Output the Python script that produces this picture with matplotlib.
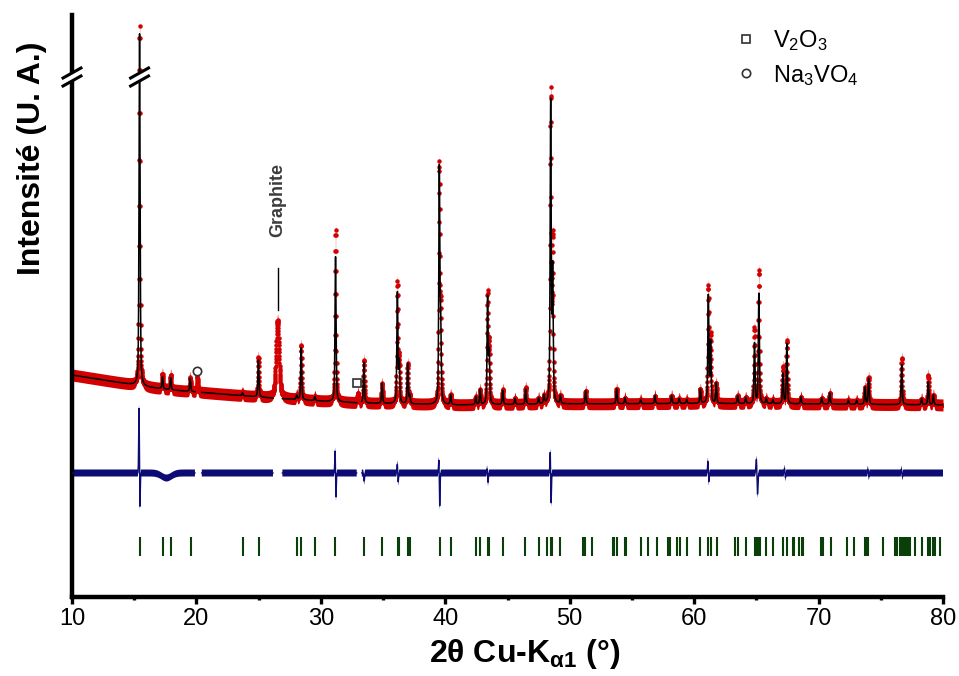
import numpy as np
import matplotlib.pyplot as plt

plt.rcParams['font.family'] = ['Liberation Sans', 'DejaVu Sans']
plt.rcParams['mathtext.fontset'] = 'custom'
plt.rcParams['mathtext.rm'] = 'Liberation Sans'
plt.rcParams['mathtext.it'] = 'Liberation Sans:italic'
plt.rcParams['mathtext.bf'] = 'Liberation Sans:bold'

# background under the pattern (2theta, a.u.)
bg_tt = [10, 12, 14, 16, 18, 20, 23, 26, 30, 33, 37, 41, 50, 60, 70, 80]
bg_int = [222, 218, 214, 210, 207, 205, 202, 199, 196, 194, 193, 192, 193, 193.5, 193, 192]

# reflections: position, calculated height, observed height
peak_pos = [15.43, 17.27, 17.93, 19.50, 20.07, 23.70, 24.98, 26.52, 28.06, 28.42,
            29.52, 31.18, 32.98, 33.46, 34.92, 36.15, 36.30, 36.98, 37.15, 39.52,
            39.63, 40.43, 42.45, 42.80, 43.40, 43.53, 44.62, 45.60, 46.46, 47.50,
            47.93, 48.47, 48.63, 49.25, 51.28, 53.77, 54.44, 55.70, 56.85, 58.19,
            58.80, 59.40, 60.50, 61.14, 61.32, 61.77, 63.50, 64.14, 64.85, 65.20,
            65.80, 66.33, 67.14, 67.45, 68.58, 70.25, 70.90, 72.39, 73.06, 73.73,
            74.02, 76.68, 78.28, 78.82, 79.23]
peak_calc = [352, 12, 12, 13, 0, 3, 37, 0, 4, 52,
             4, 145, 0, 41, 20, 110, 40, 40, 8, 233,
             70, 10, 8, 15, 106, 50, 14, 6, 15, 6,
             8, 300, 130, 8, 13, 15, 6, 4, 8, 8,
             5, 4, 14, 107, 60, 20, 8, 6, 60, 110,
             5, 4, 30, 60, 7, 6, 11, 4, 4, 17,
             26, 40, 6, 23, 10]
peak_obs = [360, 15, 15, 14, 15, 3, 40, 78, 4, 55,
            4, 172, 10, 43, 20, 120, 45, 40, 8, 235,
            80, 10, 8, 15, 110, 60, 15, 6, 17, 6,
            8, 310, 160, 8, 13, 15, 6, 4, 8, 8,
            5, 4, 14, 116, 67, 20, 8, 6, 75, 133,
            5, 4, 37, 63, 7, 6, 11, 4, 4, 17,
            27, 47, 6, 30, 10]
peak_fwhm = [0.10] * len(peak_pos)
peak_fwhm[7] = 0.28  # graphite

# regions left out of the refinement
excluded = [(19.88, 20.42), (26.15, 26.90), (32.88, 33.28)]

# difference curve features: position, upper lobe, lower lobe, width
res_pos = [15.42, 17.20, 31.18, 33.45, 36.18, 39.52, 43.40, 48.47, 61.14, 65.05, 67.30, 74.00, 76.70]
res_up = [70, 0, 25, 0, 10, 16, 5, 24, 13, 16, 5, 4, 4]
res_down = [40, 5, 27, 8, 10, 35, 10, 33, 10, 23, 5, 4, 4]
res_w = [0.03, 0.40, 0.03, 0.03, 0.03, 0.03, 0.03, 0.03, 0.03, 0.04, 0.03, 0.03, 0.03]

# Bragg positions
bragg = [15.46, 17.29, 17.93, 19.54, 23.72, 25.00, 28.06, 28.43, 29.50, 31.16,
         33.47, 34.91, 36.18, 36.28, 37.00, 37.16, 39.57, 40.43, 42.47, 42.79,
         43.46, 43.54, 44.61, 46.41, 47.56, 48.15, 48.47, 48.60, 49.22, 51.09,
         51.23, 51.77, 53.45, 53.56, 53.83, 54.44, 54.52, 55.70, 56.32, 56.99,
         57.92, 58.06, 58.60, 58.86, 59.40, 60.47, 61.14, 61.33, 61.81, 63.28,
         63.55, 64.17, 64.89, 65.02, 65.16, 65.29, 65.77, 66.31, 67.17, 67.44,
         67.92, 68.05, 68.45, 68.64, 68.72, 70.17, 70.33, 70.97, 72.26, 72.84,
         73.73, 73.87, 74.00, 75.15, 76.14, 76.28, 76.54, 76.68, 76.86, 77.02,
         77.21, 77.35, 77.75, 78.29, 78.82, 78.95, 79.22, 79.36, 79.76]

res_offset = 124
bragg_lo, bragg_hi = 41, 60


def pv(x, c, fwhm, eta=0.5):
    d = (x - c) / fwhm
    return eta / (1 + 4 * d ** 2) + (1 - eta) * np.exp(-4 * np.log(2) * d ** 2)


tt = np.arange(10, 80.0001, 0.01)
bg = np.interp(tt, bg_tt, bg_int)
calc = bg.copy()
obs = bg.copy()
for p, hc, ho, w in zip(peak_pos, peak_calc, peak_obs, peak_fwhm):
    prof = pv(tt, p, w)
    calc += hc * prof
    obs += ho * prof

diff = np.full_like(tt, res_offset, dtype=float)
for p, up, dn, w in zip(res_pos, res_up, res_down, res_w):
    diff += up * np.exp(-0.5 * ((tt - (p - w)) / w) ** 2)
    diff -= dn * np.exp(-0.5 * ((tt - (p + w)) / w) ** 2)

mask = np.zeros_like(tt, dtype=bool)
for a, b in excluded:
    mask |= (tt > a) & (tt < b)
calc_m = np.where(mask, np.nan, calc)
diff_m = np.where(mask, np.nan, diff)

red = '#d20000'
navy = '#0c0c74'
green = '#0a3f0a'

fig = plt.figure(figsize=(9.59, 6.76), dpi=100)
ax = fig.add_axes([72 / 959, 79 / 676, 871 / 959, 582 / 676])

ax.fill_between(tt, obs - 6, obs + 6, color=red, lw=0, zorder=1)
ax.plot(tt, obs, 'o', color=red, ms=3.2, mew=0, zorder=2)
ax.plot(tt, calc_m, color='black', lw=1.1, zorder=3)

ax.fill_between(tt, diff_m - 3.5, diff_m + 3.5, color=navy, lw=0, zorder=2)
ax.plot(tt, diff_m, color=navy, lw=1.0, zorder=3)

ax.vlines(bragg, bragg_lo, bragg_hi, color=green, lw=1.5)

# impurity markers
ax.plot([32.88], [214], 's', ms=6, mfc='white', mec='#303030', mew=1.2, zorder=5, label='V$_2$O$_3$')
ax.plot([20.07], [226], 'o', ms=6, mfc='white', mec='#303030', mew=1.2, zorder=5, label='Na$_3$VO$_4$')
ax.legend(loc='upper left', bbox_to_anchor=(0.760, 0.978), frameon=False, fontsize=17,
          handlelength=1.0, handletextpad=0.64, labelspacing=0.42, borderpad=0, borderaxespad=0)

ax.text(26.52, 397, 'Graphite', rotation=90, ha='center', va='center', fontsize=13,
        fontweight='bold', color='#3c3c3c')
ax.plot([26.52, 26.52], [287, 329], color='black', lw=1)

ax.set_xlim(10, 80)
ax.set_ylim(0, 582)
ax.spines['top'].set_visible(False)
ax.spines['right'].set_visible(False)
ax.spines['left'].set_linewidth(3.2)
ax.spines['bottom'].set_linewidth(3.2)
ax.set_yticks([])
ax.set_xticks(range(10, 81, 10))
ax.set_xticks(range(15, 80, 10), minor=True)
ax.tick_params(axis='x', which='major', direction='out', length=5, width=2.4, labelsize=17, pad=3)
ax.tick_params(axis='x', which='minor', direction='out', length=2.5, width=2.4)

# axis break on the y axis and on the main peak
for xc in [10, 15.43]:
    dx = 0.72
    yu, yl, dy = 524, 516, 5
    ax.fill([xc - dx, xc + dx, xc + dx, xc - dx], [yl - dy, yl + dy, yu + dy, yu - dy],
            color='white', zorder=10, clip_on=False)
    ax.plot([xc - dx, xc + dx], [yu - dy, yu + dy], color='black', lw=2.2, zorder=11, clip_on=False)
    ax.plot([xc - dx, xc + dx], [yl - dy, yl + dy], color='black', lw=2.2, zorder=11, clip_on=False)

ax.set_ylabel('Intensité (U. A.)', fontsize=23, fontweight='bold')
ax.yaxis.set_label_coords(-0.029, 0.754)
ax.set_xlabel(r'2θ Cu-K$_{\mathbf{\alpha1}}$ (°)', fontsize=23, fontweight='bold')
ax.xaxis.set_label_coords(0.52, -0.068)

fig.savefig('out.png', dpi=100)
